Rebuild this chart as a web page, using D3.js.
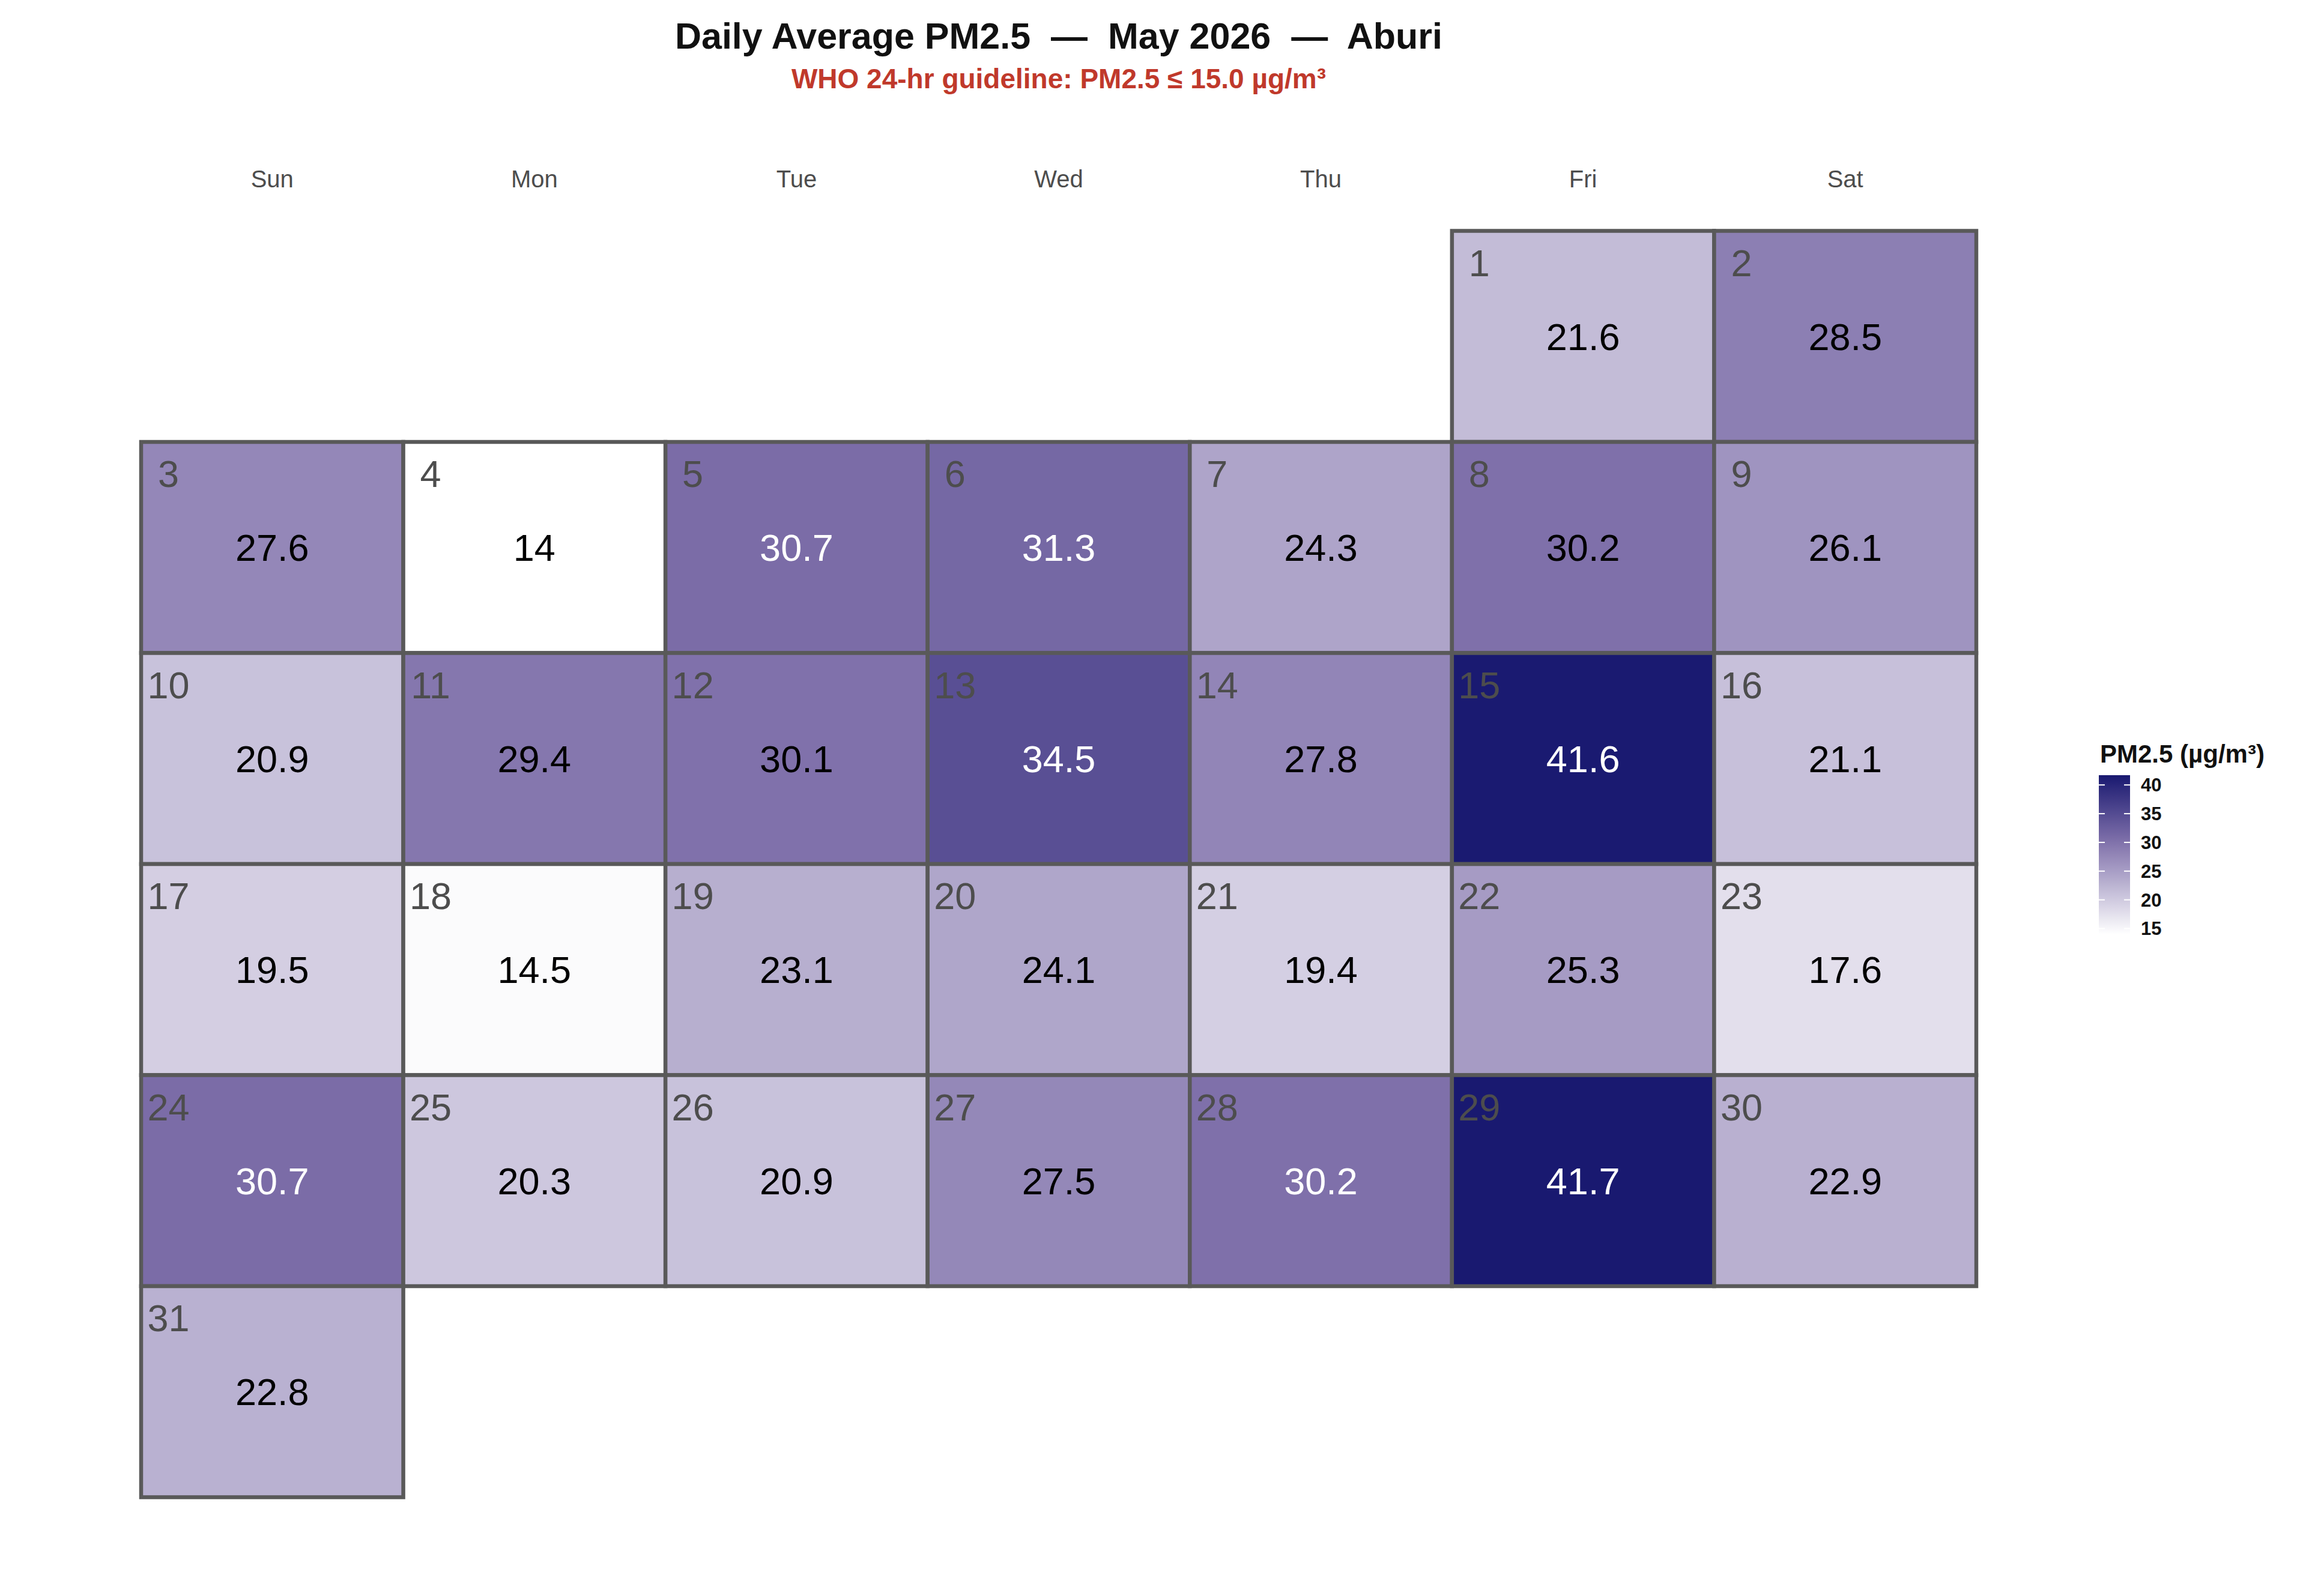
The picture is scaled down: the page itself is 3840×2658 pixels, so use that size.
<!DOCTYPE html>
<html>
<head>
<meta charset="utf-8">
<script src="https://cdn.jsdelivr.net/npm/d3@7"></script>
<style>
  body { margin: 0; background: #fff; }
  text { font-family: "Liberation Sans", Arial, sans-serif; white-space: pre; }
</style>
</head>
<body>
<svg width="3840" height="2658"></svg>
<script>
const svg = d3.select("svg");
const width = +svg.attr("width");
const height = +svg.attr("height");

// May 2026 daily averages (µg/m³)
const weekdays = ["Sun", "Mon", "Tue", "Wed", "Thu", "Fri", "Sat"];
const days = d3.range(1, 32);
const pm25 = [21.6, 28.5, 27.6, 14.0, 30.7, 31.3, 24.3, 30.17, 26.1, 20.9,
              29.4, 30.1, 34.5, 27.8, 41.6, 21.1, 19.5, 14.5, 23.1, 24.1,
              19.4, 25.3, 17.6, 30.7, 20.3, 20.9, 27.5, 30.24, 41.7, 22.9, 22.8];
const legendTicks = [15, 20, 25, 30, 35, 40];
const firstWeekday = 5; // 1 May 2026 is a Friday

const data = days.map((d, i) => {
    const pos = firstWeekday + i;
    return { day: d, value: pm25[i], col: pos % 7, week: Math.floor(pos / 7) };
});

// layout
const x = d3.scaleBand().domain(weekdays).range([235, 3291]);
const y = d3.scaleBand().domain(d3.range(6)).range([384.5, 2493.5]);

const vmin = d3.min(pm25), vmax = d3.max(pm25);
const color = d3.scaleLinear()
    .domain([vmin, 30.2, vmax])
    .range(["#ffffff", "#7f70aa", "#191970"]);

const fmt = v => String(Math.round(v * 10) / 10);

// title
svg.append("text")
    .attr("x", 1763).attr("y", 81)
    .attr("text-anchor", "middle")
    .attr("font-size", 61).attr("font-weight", "bold")
    .attr("fill", "#111")
    .text("Daily Average PM2.5  \u2014  May 2026  \u2014  Aburi");

svg.append("text")
    .attr("x", 1763).attr("y", 147)
    .attr("text-anchor", "middle")
    .attr("font-size", 46).attr("font-weight", "bold")
    .attr("fill", "#c0392b")
    .text("WHO 24-hr guideline: PM2.5 ≤ 15.0 µg/m³");

// weekday header
svg.append("g").selectAll("text")
    .data(weekdays)
    .enter().append("text")
    .attr("x", d => x(d) + x.bandwidth() / 2)
    .attr("y", 312)
    .attr("text-anchor", "middle")
    .attr("font-size", 40)
    .attr("fill", "#4d4d4d")
    .text(d => d);

// tiles
const cells = svg.append("g").selectAll("g")
    .data(data)
    .enter().append("g")
    .attr("transform", d => `translate(${x(weekdays[d.col])},${y(d.week)})`);

cells.append("rect")
    .attr("width", x.bandwidth())
    .attr("height", y.bandwidth())
    .attr("fill", d => color(d.value))
    .attr("stroke", "#595959")
    .attr("stroke-width", 6.5);

cells.append("text")
    .attr("x", 45.5)
    .attr("y", 75)
    .attr("text-anchor", "middle")
    .attr("font-size", 63)
    .attr("fill", "#4d4d4d")
    .text(d => d.day);

cells.append("text")
    .attr("x", x.bandwidth() / 2)
    .attr("y", y.bandwidth() / 2 + 22.5)
    .attr("text-anchor", "middle")
    .attr("font-size", 63)
    .attr("fill", d => d.value > 30.2 ? "#ffffff" : "#000000")
    .text(d => fmt(d.value));

// colour bar legend
const barX = 3495, barW = 52;
const ly = d3.scaleLinear().domain([vmin, vmax]).range([1556, 1291]);

const grad = svg.append("defs").append("linearGradient")
    .attr("id", "pmgrad")
    .attr("x1", 0).attr("y1", 1).attr("x2", 0).attr("y2", 0);
d3.range(0, 1.0001, 0.05).forEach(t => {
    grad.append("stop")
        .attr("offset", t)
        .attr("stop-color", color(vmin + t * (vmax - vmin)));
});

const legend = svg.append("g");
legend.append("text")
    .attr("x", 3497).attr("y", 1270)
    .attr("font-size", 42).attr("font-weight", "bold")
    .attr("fill", "#111")
    .text("PM2.5 (µg/m³)");

legend.append("rect")
    .attr("x", barX).attr("y", ly(vmax))
    .attr("width", barW).attr("height", ly(vmin) - ly(vmax))
    .attr("fill", "url(#pmgrad)");

const tickG = legend.selectAll("g.tick")
    .data(legendTicks)
    .enter().append("g")
    .attr("class", "tick");

tickG.append("line")
    .attr("x1", barX).attr("x2", barX + 10)
    .attr("y1", d => ly(d)).attr("y2", d => ly(d))
    .attr("stroke", "#fff").attr("stroke-width", 2);
tickG.append("line")
    .attr("x1", barX + barW - 10).attr("x2", barX + barW)
    .attr("y1", d => ly(d)).attr("y2", d => ly(d))
    .attr("stroke", "#fff").attr("stroke-width", 2);
tickG.append("text")
    .attr("x", 3565)
    .attr("y", d => ly(d) + 11)
    .attr("font-size", 31).attr("font-weight", "bold")
    .attr("fill", "#111")
    .text(d => d);
</script>
</body>
</html>
